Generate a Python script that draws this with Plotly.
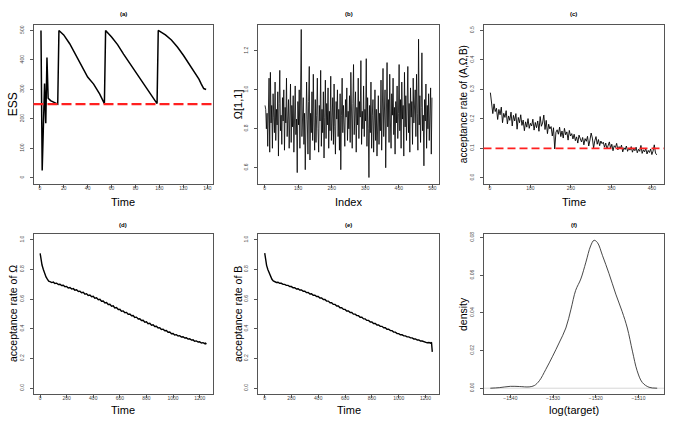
import plotly.graph_objects as go

W, H = 676, 423

# (a) ESS over time
ess_time = [1, 2, 4, 5, 6, 7, 9, 12, 15, 16, 20, 25, 30, 35, 40, 45, 50, 54,
            55, 60, 65, 70, 75, 80, 85, 90, 95, 98,
            99, 105, 110, 115, 120, 125, 130, 133, 135, 137, 139]
ess_vals = [500, 25, 320, 185, 408, 270, 262, 256, 250, 500, 485, 455, 418, 380, 342, 318, 285, 252,
            500, 478, 452, 420, 390, 358, 330, 300, 272, 252,
            500, 485, 468, 444, 416, 385, 352, 335, 318, 303, 300]

# (b) trace of Omega[1,1] (every second index)
omega_idx = list(range(1, 500, 2))
omega_vals = [
    0.92, 0.90, 0.80, 0.88, 0.71, 0.95, 1.06, 0.68, 1.09, 0.83, 0.92, 0.70, 0.98, 0.86, 0.78, 1.04, 0.74, 0.90, 0.82, 0.99, 0.66, 0.93, 1.10, 0.79, 0.87,
    0.72, 0.96, 0.84, 1.00, 0.69, 0.91, 0.83, 1.06, 0.76, 0.88, 0.95, 0.70, 0.86, 1.03, 0.73, 0.92, 0.81, 0.97, 0.68, 0.89, 1.02, 0.77, 0.85, 0.575, 0.94,
    0.82, 1.00, 0.70, 0.93, 1.31, 0.76, 0.86, 0.96, 0.72, 0.88, 0.59, 0.79, 1.04, 0.85, 0.67, 0.94, 1.12, 0.64, 0.88, 0.78, 0.99, 0.74, 1.08, 0.83, 0.69,
    0.95, 0.73, 0.87, 1.06, 0.80, 0.68, 0.92, 0.84, 1.10, 0.71, 0.90, 0.78, 0.99, 0.65, 0.86, 1.05, 0.75, 0.93, 0.82, 1.01, 0.70, 0.89, 0.79, 1.07, 0.74,
    0.88, 0.96, 0.72, 1.03, 0.81, 0.67, 0.94, 0.85, 1.00, 0.76, 0.90, 0.69, 0.98, 0.59, 0.87, 1.06, 0.78, 0.92, 0.83, 0.71, 0.95, 0.86, 1.01, 0.74, 0.89,
    0.80, 0.97, 0.73, 1.09, 0.84, 0.70, 0.93, 1.13, 0.77, 0.88, 0.99, 0.68, 0.91, 0.82, 1.06, 0.75, 0.94, 0.86, 1.15, 0.72, 0.89, 0.80, 1.02, 0.76, 0.90,
    0.84, 1.16, 0.71, 0.96, 0.80, 0.55, 0.92, 0.78, 1.04, 0.70, 0.87, 0.95, 0.68, 0.83, 1.00, 0.74, 0.90, 0.66, 0.85, 0.97, 0.72, 0.88, 0.79, 1.05, 0.69,
    0.93, 1.11, 0.76, 0.86, 1.00, 0.60, 0.89, 1.14, 0.81, 0.95, 0.73, 1.08, 0.84, 0.70, 0.98, 0.87, 1.06, 0.77, 0.91, 0.67, 0.94, 0.83, 1.02, 0.75, 0.88,
    1.13, 0.79, 0.95, 0.70, 1.04, 0.85, 0.92, 0.66, 1.09, 0.81, 0.97, 0.74, 0.89, 1.12, 0.78, 0.93, 0.68, 1.01, 0.86, 0.94, 0.72, 1.06, 0.83, 0.90, 1.00,
    0.76, 1.08, 0.88, 0.69, 1.26, 0.82, 0.97, 0.73, 0.91, 1.19, 0.79, 0.87, 0.61, 0.95, 0.84, 1.03, 0.70, 0.92, 0.80, 0.98, 0.74, 0.89, 1.01, 0.67, 0.96,
]

# (c) acceptance rate of (A, Omega, B)
acc_time = list(range(1, 413, 3))
acc_vals = [
    0.289, 0.262, 0.218, 0.251, 0.225, 0.236, 0.198, 0.232, 0.214, 0.240, 0.187, 0.219, 0.205, 0.228, 0.183, 0.210, 0.195, 0.223, 0.176, 0.212, 0.193, 0.218, 0.165,
    0.205, 0.187, 0.214, 0.178, 0.196, 0.160, 0.190, 0.172, 0.201, 0.168, 0.185, 0.176, 0.199, 0.162, 0.188, 0.170, 0.193, 0.158, 0.208, 0.175, 0.186, 0.213, 0.164,
    0.195, 0.150, 0.182, 0.166, 0.174, 0.142, 0.170, 0.098, 0.155, 0.163, 0.148, 0.172, 0.140, 0.159, 0.135, 0.168, 0.146, 0.156, 0.128, 0.161, 0.142, 0.150, 0.132,
    0.148, 0.126, 0.139, 0.118, 0.145, 0.130, 0.122, 0.137, 0.112, 0.133, 0.124, 0.141, 0.108, 0.128, 0.152, 0.135, 0.101, 0.126, 0.140, 0.114, 0.130, 0.109, 0.125,
    0.116, 0.121, 0.104, 0.118, 0.098, 0.112, 0.122, 0.100, 0.114, 0.092, 0.109, 0.103, 0.117, 0.095, 0.106, 0.099, 0.111, 0.088, 0.102, 0.096, 0.108, 0.090, 0.101,
    0.094, 0.106, 0.087, 0.099, 0.092, 0.104, 0.085, 0.097, 0.090, 0.110, 0.083, 0.095, 0.088, 0.100, 0.081, 0.093, 0.086, 0.098, 0.079, 0.091, 0.112, 0.084, 0.078,
]

# (d) acceptance rate of Omega, (e) acceptance rate of B
rate_time = [1, 8, 15, 25, 35, 45, 55, 65, 75, 88, 100, 112, 125, 138, 150, 162, 175, 188, 200, 212, 225, 238, 250, 262, 275, 288, 300,
             312, 325, 338, 350, 362, 375, 388, 400, 412, 425, 438, 450, 462, 475, 488, 500, 512, 525, 538, 550, 562, 575, 588, 600,
             612, 625, 638, 650, 662, 675, 688, 700, 712, 725, 738, 750, 762, 775, 788, 800, 812, 825, 838, 850, 862, 875, 888, 900,
             912, 925, 938, 950, 962, 975, 988, 1000, 1012, 1025, 1038, 1050, 1062, 1075, 1088, 1100, 1112, 1125, 1138, 1150, 1162,
             1175, 1188, 1200, 1212, 1225, 1238, 1244, 1250]
omega_rate = [0.909, 0.862, 0.830, 0.800, 0.772, 0.750, 0.735, 0.722, 0.719, 0.712, 0.715, 0.706, 0.708, 0.699, 0.701, 0.692, 0.694, 0.684, 0.686, 0.676, 0.679, 0.668, 0.671, 0.661, 0.663, 0.652, 0.654,
              0.643, 0.646, 0.634, 0.637, 0.625, 0.628, 0.617, 0.619, 0.607, 0.609, 0.597, 0.599, 0.586, 0.588, 0.575, 0.577, 0.564, 0.566, 0.553, 0.555, 0.541, 0.544, 0.530, 0.532,
              0.519, 0.521, 0.509, 0.511, 0.498, 0.500, 0.488, 0.490, 0.477, 0.479, 0.466, 0.468, 0.456, 0.458, 0.445, 0.447, 0.435, 0.437, 0.425, 0.427, 0.416, 0.418, 0.406, 0.408,
              0.396, 0.398, 0.387, 0.389, 0.377, 0.379, 0.367, 0.369, 0.359, 0.361, 0.352, 0.354, 0.345, 0.347, 0.338, 0.340, 0.331, 0.333, 0.324, 0.326, 0.317,
              0.319, 0.311, 0.313, 0.305, 0.307, 0.300, 0.303, 0.296]
b_rate = [0.911, 0.860, 0.828, 0.799, 0.773, 0.751, 0.734, 0.723, 0.718, 0.713, 0.714, 0.707, 0.707, 0.700, 0.700, 0.693, 0.693, 0.685, 0.685, 0.677, 0.678, 0.669, 0.670, 0.662, 0.662, 0.653, 0.653,
          0.644, 0.645, 0.635, 0.636, 0.626, 0.627, 0.618, 0.618, 0.608, 0.608, 0.598, 0.598, 0.587, 0.587, 0.576, 0.576, 0.565, 0.565, 0.554, 0.554, 0.542, 0.543, 0.531, 0.531,
          0.520, 0.520, 0.510, 0.510, 0.499, 0.499, 0.489, 0.489, 0.478, 0.478, 0.467, 0.467, 0.457, 0.457, 0.446, 0.446, 0.436, 0.436, 0.426, 0.426, 0.417, 0.417, 0.407, 0.407,
          0.397, 0.397, 0.388, 0.388, 0.378, 0.378, 0.368, 0.368, 0.360, 0.360, 0.353, 0.353, 0.346, 0.346, 0.339, 0.339, 0.332, 0.332, 0.325, 0.325, 0.318,
          0.318, 0.312, 0.312, 0.306, 0.308, 0.303, 0.310, 0.245]

# (f) density of log(target)
logt_x = [-1544.7, -1542.6, -1540.0, -1537.9, -1535.6, -1534.4, -1533.2, -1531.7, -1530.1, -1528.6, -1527.0,
          -1525.8, -1524.7, -1523.5, -1522.3, -1521.2, -1520.4, -1519.6, -1518.4, -1516.9, -1515.3,
          -1513.8, -1512.6, -1511.4, -1510.3, -1509.1, -1507.5, -1505.6]
dens_y = [0.0, 0.0003, 0.0010, 0.0009, 0.0007, 0.0014, 0.0040, 0.0100, 0.0170, 0.0240, 0.0320,
          0.0420, 0.0520, 0.0580, 0.0670, 0.0756, 0.0786, 0.0774, 0.0704, 0.0610, 0.0500,
          0.0407, 0.0320, 0.0197, 0.0093, 0.0031, 0.0005, 0.0]

FONT = "Liberation Sans, Arial, sans-serif"

# panel boxes in pixels: (left, right, top, bottom)
cols = [(33.5, 213), (258, 439), (483.5, 664)]
rows = [(22.7, 182.6), (233, 394)]

fig = go.Figure()

panels = [
    # name, col, row, xrange, yrange, xticks, yticks, ytext
    ("(a)", 0, 0, [-5.25, 144.75], [-20, 520], list(range(0, 141, 20)), [0, 100, 200, 300, 400, 500],
     [str(v) for v in [0, 100, 200, 300, 400, 500]]),
    ("(b)", 1, 0, [-20, 520], [0.518, 1.335], list(range(0, 501, 100)), [0.6, 0.8, 1.0, 1.2],
     ["0.6", "0.8", "1.0", "1.2"]),
    ("(c)", 2, 0, [-16, 430], [-0.02, 0.52], [0, 100, 200, 300, 400], [0, 0.1, 0.2, 0.3, 0.4, 0.5],
     ["0.0", "0.1", "0.2", "0.3", "0.4", "0.5"]),
    ("(d)", 0, 1, [-49, 1300], [-0.04, 1.04], list(range(0, 1201, 200)), [0, 0.2, 0.4, 0.6, 0.8, 1.0],
     ["0.0", "0.2", "0.4", "0.6", "0.8", "1.0"]),
    ("(e)", 1, 1, [-49, 1300], [-0.04, 1.04], list(range(0, 1201, 200)), [0, 0.2, 0.4, 0.6, 0.8, 1.0],
     ["0.0", "0.2", "0.4", "0.6", "0.8", "1.0"]),
    ("(f)", 2, 1, [-1546.3, -1504.0], [-0.00315, 0.0820], [-1540, -1530, -1520, -1510], [0, 0.02, 0.04, 0.06, 0.08],
     ["0.00", "0.02", "0.04", "0.06", "0.08"]),
]

series = [
    (ess_time, ess_vals, 1.5, "black"),
    (omega_idx, omega_vals, 0.8, "black"),
    (acc_time, acc_vals, 0.9, "black"),
    (rate_time, omega_rate, 1.4, "black"),
    (rate_time, b_rate, 1.4, "black"),
    (logt_x, dens_y, 0.9, "#333333"),
]

x_titles = ["Time", "Index", "Time", "Time", "Time", "log(target)"]
y_titles = ["ESS", "Ω[1,1]", "acceptance rate of (A,Ω,B)", "acceptance rate of Ω", "acceptance rate of B", "density"]
y_title_size = [12, 11, 10, 10.5, 10.5, 10.5]

layout = {}
for i, (lab, c, r, xr, yr, xt, yt, ytxt) in enumerate(panels):
    n = i + 1
    sfx = "" if n == 1 else str(n)
    l, rr = cols[c]
    t, b = rows[r]
    common = dict(showline=True, mirror=True, linecolor="#555555", linewidth=1,
                  ticks="outside", ticklen=3, tickcolor="#555555", tickwidth=0.8,
                  showgrid=False, zeroline=False,
                  tickfont=dict(size=5, color="#444444", family=FONT))
    layout["xaxis" + sfx] = dict(domain=[l / W, rr / W], range=xr, tickvals=xt, ticklabelstandoff=-4,
                                 anchor="y" + sfx, **common)
    layout["yaxis" + sfx] = dict(domain=[1 - b / H, 1 - t / H], range=yr, tickvals=yt, ticktext=ytxt,
                                 tickangle=-90, ticklabelstandoff=4, anchor="x" + sfx, **common)
    xs, ys, lw, col = series[i]
    fig.add_trace(go.Scatter(x=xs, y=ys, mode="lines", xaxis="x" + sfx, yaxis="y" + sfx,
                             line=dict(color=col, width=lw, shape="spline" if i == 5 else "linear"),
                             showlegend=False, hoverinfo="skip"))

annotations = []
for i, (lab, c, r, *_rest) in enumerate(panels):
    l, rr = cols[c]
    t, b = rows[r]
    cx = (l + rr) / 2
    title_y = 11.7 if r == 0 else 224.3
    xt_y = 200.5 if r == 0 else 410
    yt_x = [13, 238, 463][c]
    annotations.append(dict(text="<b>" + lab + "</b>", x=cx / W, y=1 - title_y / H, xref="paper", yref="paper",
                            showarrow=False, font=dict(size=6, family=FONT, color="black"),
                            xanchor="center", yanchor="middle"))
    annotations.append(dict(text=x_titles[i], x=cx / W, y=1 - xt_y / H, xref="paper", yref="paper",
                            showarrow=False, font=dict(size=11, family=FONT, color="black"),
                            xanchor="center", yanchor="middle"))
    annotations.append(dict(text=y_titles[i], x=yt_x / W, y=1 - ((t + b) / 2) / H, xref="paper", yref="paper",
                            showarrow=False, textangle=-90, font=dict(size=y_title_size[i], family=FONT, color="black"),
                            xanchor="center", yanchor="middle"))

shapes = [
    dict(type="line", xref="x domain", yref="y", x0=0, x1=1, y0=250, y1=250,
         line=dict(color="#FF2020", width=2.2, dash="10px,4px")),
    dict(type="line", xref="x3 domain", yref="y3", x0=0, x1=1, y0=0.1, y1=0.1,
         line=dict(color="#FF2020", width=1.8, dash="8px,4px")),
    dict(type="line", xref="x6 domain", yref="y6", x0=0, x1=1, y0=0, y1=0,
         line=dict(color="#CCCCCC", width=0.8), layer="below"),
]

fig.update_layout(width=W, height=H, margin=dict(l=0, r=0, t=0, b=0),
                  paper_bgcolor="white", plot_bgcolor="white",
                  annotations=annotations, shapes=shapes, **layout)

# the page's default body margin would push the figure 8px right and down
fig.write_html("out.html", config={"displayModeBar": False},
               post_script="document.body.style.margin='0px';")
